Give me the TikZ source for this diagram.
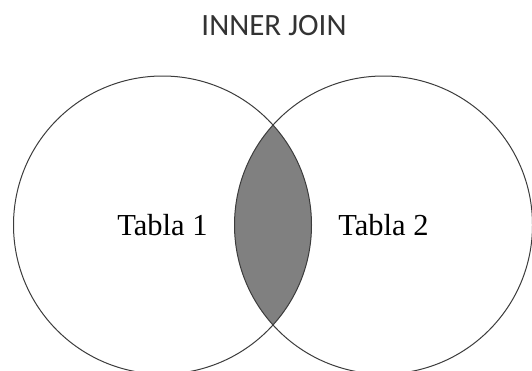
\documentclass[tikz,border=0pt]{standalone}
\usepackage{fontspec}
\setmainfont{Liberation Serif}
\newfontfamily\titlefont{Carlito}
\definecolor{lensgray}{RGB}{128,128,128}
\definecolor{linegray}{RGB}{60,60,60}
\tikzset{
  setcircle/.style={draw=linegray, line width=1pt, circle, minimum size=298pt, inner sep=0pt,
    font=\fontsize{30.5}{33}\selectfont},
  titletext/.style={font=\titlefont\fontsize{31}{34}\selectfont, text=black!80}
}
\begin{document}
\begin{tikzpicture}[x=1pt,y=-1pt]
\useasboundingbox (0,0) rectangle (532,370);
\clip (0,0) rectangle (532,370);
\coordinate (c1) at (162.5,225);
\coordinate (c2) at (383.5,225);
\begin{scope}
  \clip (c1) circle (149);
  \fill[lensgray] (c2) circle (149);
\end{scope}
\node[setcircle] (tabla1) at (c1) {Tabla 1};
\node[setcircle] (tabla2) at (c2) {Tabla 2};
\node[titletext] (title) at (274,26) {INNER JOIN};
\end{tikzpicture}
\end{document}
